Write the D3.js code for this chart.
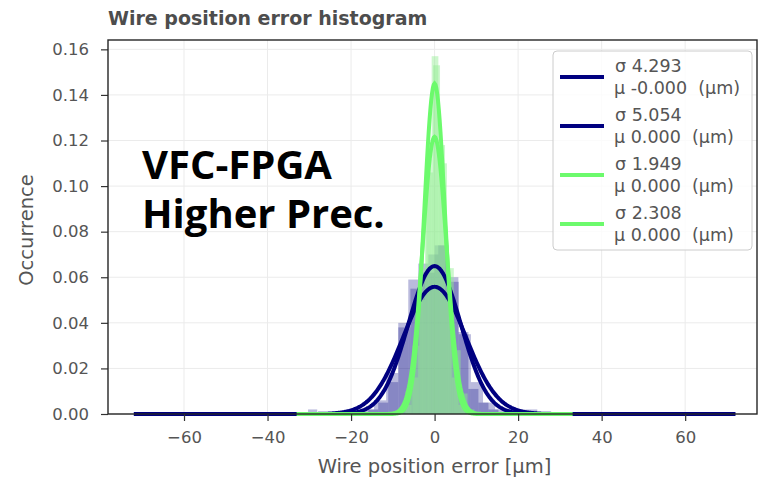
<!DOCTYPE html>
<html>
<head>
<meta charset="utf-8">
<script src="https://cdn.jsdelivr.net/npm/d3@7"></script>
<style>
  body { margin: 0; background: #fff; }
  text { font-family: "DejaVu Sans", sans-serif; }
</style>
</head>
<body>
<div id="chart"></div>
<script>
// tick values
var xTicks = [-60, -40, -20, 0, 20, 40, 60];
var yTicks = [0, 0.02, 0.04, 0.06, 0.08, 0.10, 0.12, 0.14, 0.16];

// fitted gaussians: legend values, plus the peak / width as drawn in the picture
var sigmas = [4.293, 5.054, 1.949, 2.308];
var muLabels = ["-0.000", "0.000", "0.000", "0.000"];
var mus = [0, 0, 0, 0];
var fitPeak = [0.0649, 0.0558, 0.145, 0.1216];
var fitWidth = [6.3, 7.5, 2.5, 2.85];
var fitRange = [[-72, 72], [-72, 72], [-33, 33], [-33, 33]];
var fitColors = ["#000080", "#000080", "#6cfa6c", "#6cfa6c"];

// blue histograms
var blueEdgesA = [-15.9, -13.5, -11.1, -8.7, -6.3, -3.9, -1.5, 0.9, 3.3, 5.7, 8.1, 10.5, 12.9, 15.3];
var blueHeightsA = [0.002, 0.005, 0.014, 0.040, 0.059, 0.066, 0.070, 0.074, 0.060, 0.036, 0.011, 0.005, 0.002];
var blueEdgesB = [-17.4, -14.5, -11.6, -8.7, -5.8, -2.9, 0, 2.9, 5.8, 8.7, 11.6, 14.5, 17.4];
var blueHeightsB = [0.002, 0.006, 0.018, 0.038, 0.055, 0.062, 0.074, 0.058, 0.035, 0.014, 0.005, 0.002];
var blueOutliers = [[-30.3, -28.1, 0.002], [21.7, 24.6, 0.002]];

// green histograms
var greenEdgesC = [-7.1, -5.5, -3.9, -2.3, -0.7, 0.9, 2.5, 4.1, 5.7, 7.3];
var greenHeightsC = [0.004, 0.016, 0.050, 0.112, 0.157, 0.118, 0.050, 0.016, 0.004];
var greenEdgesD = [-8.6, -6.95, -5.3, -3.65, -2.0, -0.35, 1.3, 2.95, 4.6, 6.25, 7.9, 9.55];
var greenHeightsD = [0.002, 0.010, 0.030, 0.064, 0.106, 0.153, 0.110, 0.064, 0.028, 0.009, 0.002];

var w = 761, h = 480;
var svg = d3.select("#chart").append("svg")
    .attr("width", w)
    .attr("height", h);

var x = d3.scaleLinear().domain([-78.2, 77.2]).range([108, 757]);
var y = d3.scaleLinear().domain([0, 0.1641]).range([414, 40]);

// grid
svg.append("g").selectAll("line").data(xTicks).enter().append("line")
    .attr("x1", function(d) { return x(d); }).attr("x2", function(d) { return x(d); })
    .attr("y1", y.range()[1]).attr("y2", y.range()[0])
    .style("stroke", "#ebebeb").style("stroke-width", 1);
svg.append("g").selectAll("line").data(yTicks).enter().append("line")
    .attr("x1", x.range()[0]).attr("x2", x.range()[1])
    .attr("y1", function(d) { return y(d); }).attr("y2", function(d) { return y(d); })
    .style("stroke", "#ebebeb").style("stroke-width", 1);

function toBins(edges, heights) {
    return heights.map(function(v, i) { return [edges[i], edges[i + 1], v]; });
}

function drawHist(bins, color, op) {
    svg.append("g").selectAll("rect").data(bins).enter().append("rect")
        .attr("x", function(d) { return x(d[0]); })
        .attr("width", function(d) { return x(d[1]) - x(d[0]); })
        .attr("y", function(d) { return y(d[2]); })
        .attr("height", function(d) { return y(0) - y(d[2]); })
        .style("fill", color)
        .style("fill-opacity", op);
}

drawHist(toBins(blueEdgesA, blueHeightsA).concat(blueOutliers), "#000080", 0.27);
drawHist(toBins(blueEdgesB, blueHeightsB), "#000080", 0.27);
drawHist(toBins(greenEdgesC, greenHeightsC), "#90ee90", 0.45);
drawHist(toBins(greenEdgesD, greenHeightsD), "#90ee90", 0.45);

// fitted curves
var line = d3.line()
    .x(function(d) { return x(d[0]); })
    .y(function(d) { return y(d[1]); });

fitPeak.forEach(function(p, i) {
    var pts = d3.range(fitRange[i][0], fitRange[i][1] + 0.001, 0.2).map(function(v) {
        var z = (v - mus[i]) / fitWidth[i];
        return [v, p * Math.exp(-0.5 * z * z)];
    });
    svg.append("path")
        .attr("d", line(pts))
        .style("fill", "none")
        .style("stroke", fitColors[i])
        .style("stroke-width", 4);
});

// axes
var xAxis = svg.append("g")
    .attr("transform", "translate(0," + y(0) + ")")
    .call(d3.axisBottom(x).tickValues(xTicks).tickSize(7).tickPadding(10));
var yAxis = svg.append("g")
    .attr("transform", "translate(" + x.range()[0] + ",0)")
    .call(d3.axisLeft(y).tickValues(yTicks).tickFormat(d3.format(".2f")).tickSize(7).tickPadding(12));

[xAxis, yAxis].forEach(function(a) {
    a.select(".domain").remove();
    a.selectAll(".tick line").style("stroke", "#333").style("stroke-width", 1.2);
    a.selectAll(".tick text")
        .style("font-family", "DejaVu Sans")
        .style("font-size", "16.5px")
        .style("fill", "#555");
});

// frame
svg.append("rect")
    .attr("x", x.range()[0]).attr("y", y.range()[1])
    .attr("width", x.range()[1] - x.range()[0])
    .attr("height", y.range()[0] - y.range()[1])
    .style("fill", "none")
    .style("stroke", "#262626")
    .style("stroke-width", 1.4);

// title + labels
svg.append("text")
    .attr("x", 108).attr("y", 25)
    .style("font-size", "19px").style("font-weight", "bold")
    .style("fill", "#4d4d4d")
    .text("Wire position error histogram");

svg.append("text")
    .attr("x", 434.5).attr("y", 473)
    .attr("text-anchor", "middle")
    .style("font-size", "19.5px").style("fill", "#555")
    .text("Wire position error [μm]");

svg.append("text")
    .attr("transform", "translate(33,230) rotate(-90)")
    .attr("text-anchor", "middle")
    .style("font-size", "19.5px").style("fill", "#555")
    .text("Occurrence");

// legend
var lg = svg.append("g");
lg.append("rect")
    .attr("x", 553).attr("y", 51).attr("width", 199).attr("height", 199)
    .attr("rx", 4)
    .style("fill", "#fff").style("fill-opacity", 0.8)
    .style("stroke", "#cccccc").style("stroke-width", 1);

sigmas.forEach(function(s, i) {
    var cy = 77 + i * 49;
    lg.append("line")
        .attr("x1", 560).attr("x2", 604)
        .attr("y1", cy).attr("y2", cy)
        .style("stroke", fitColors[i]).style("stroke-width", 4);
    lg.append("text")
        .attr("x", 615).attr("y", cy - 5.5)
        .style("font-size", "17.5px").style("fill", "#555")
        .style("white-space", "pre")
        .text("σ " + s.toFixed(3));
    lg.append("text")
        .attr("x", 614).attr("y", cy + 16.5)
        .style("font-size", "17.5px").style("fill", "#555")
        .style("white-space", "pre")
        .text("μ " + muLabels[i] + "  (μm)");
});

// overlay annotation
var note = ["VFC-FPGA", "Higher Prec."];
svg.append("g").selectAll("text").data(note).enter().append("text")
    .attr("x", 142)
    .attr("y", function(d, i) { return 179 + i * 49; })
    .style("font-family", "'Open Sans', sans-serif")
    .style("font-weight", "bold")
    .style("font-size", "40px")
    .style("fill", "#000")
    .text(function(d) { return d; });
</script>
</body>
</html>
